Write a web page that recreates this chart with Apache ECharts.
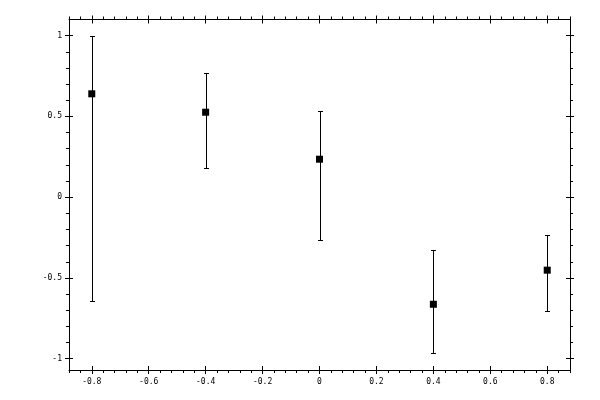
<!DOCTYPE html>
<html>
<head>
<meta charset="utf-8">
<script src="https://cdn.jsdelivr.net/npm/echarts@6/dist/echarts.min.js"></script>
<style>
html,body{margin:0;padding:0;background:#fff;}
#chart{width:600px;height:400px;}
</style>
</head>
<body>
<div id="chart"></div>
<script>
// ---- data ----
const xValues = [-0.8, -0.4, 0, 0.4, 0.8];
const yValues = [0.64, 0.526, 0.235, -0.663, -0.452];
const yLower  = [-0.645, 0.181, -0.266, -0.964, -0.706];
const yUpper  = [1.0, 0.768, 0.532, -0.328, -0.235];

const xTickLabels = [-0.8, -0.6, -0.4, -0.2, 0, 0.2, 0.4, 0.6, 0.8];
const yTickLabels = [-1, -0.5, 0, 0.5, 1];

const xRange = [-0.88, 0.88];
const yRange = [-1.07, 1.1];

// minor tick positions (every 0.04 on x, every 0.1 on y)
const xMinorTicks = [];
for (let k = -22; k <= 22; k++) xMinorTicks.push(Math.round(k * 4) / 100);
const yMinorTicks = [];
for (let k = -10; k <= 10; k++) yMinorTicks.push(Math.round(k * 10) / 100);

const font = {fontFamily: 'DejaVu Sans Mono', fontSize: 8, color: '#000'};
const lineStyle = {color: '#000', width: 1};

function makeAxes(position, range, majors, minors, withLabels, labelMargin) {
  const base = {
    type: 'value', min: range[0], max: range[1], position: position,
    splitLine: {show: false}, axisLabel: {show: false},
    axisLine: {show: false, onZero: false}, axisTick: {show: false}
  };
  return [
    Object.assign({}, base, {
      axisLine: {show: true, onZero: false, lineStyle: lineStyle},
      axisTick: {show: true, inside: false, length: 4, customValues: majors, lineStyle: lineStyle},
      axisLabel: withLabels ? Object.assign({show: true, margin: labelMargin, customValues: majors}, font) : {show: false}
    }),
    Object.assign({}, base, {
      axisTick: {show: true, inside: true, length: 4, customValues: majors, lineStyle: lineStyle}
    }),
    Object.assign({}, base, {
      axisTick: {show: true, inside: false, length: 3, customValues: minors, lineStyle: lineStyle}
    })
  ];
}

const xAxes = makeAxes('bottom', xRange, xTickLabels, xMinorTicks, true, 8)
  .concat(makeAxes('top', xRange, xTickLabels, xMinorTicks, false, 8));
const yAxes = makeAxes('left', yRange, yTickLabels, yMinorTicks, true, 7)
  .concat(makeAxes('right', yRange, yTickLabels, yMinorTicks, false, 7));

const pointData = xValues.map((x, i) => [x, yValues[i]]);
const errData = xValues.map((x, i) => [x, yLower[i], yUpper[i]]);

const chart = echarts.init(document.getElementById('chart'), null, {renderer: 'canvas'});
chart.setOption({
  animation: false,
  backgroundColor: '#fff',
  grid: {left: 69, right: 30, top: 19.5, bottom: 30, containLabel: false},
  xAxis: xAxes,
  yAxis: yAxes,
  series: [
    {
      type: 'custom',
      xAxisIndex: 0, yAxisIndex: 0,
      data: errData,
      encode: {x: 0, y: [1, 2]},
      renderItem: function (params, api) {
        const x = api.value(0);
        const lo = api.coord([x, api.value(1)]);
        const hi = api.coord([x, api.value(2)]);
        const px = Math.round(lo[0]) + 0.5;
        const ly = Math.round(lo[1]) + 0.5;
        const hy = Math.round(hi[1]) + 0.5;
        const cap = 2.5;
        const st = {stroke: '#000', lineWidth: 1};
        return {
          type: 'group',
          children: [
            {type: 'line', shape: {x1: px, y1: ly, x2: px, y2: hy}, style: st},
            {type: 'line', shape: {x1: px - cap, y1: ly, x2: px + cap, y2: ly}, style: st},
            {type: 'line', shape: {x1: px - cap, y1: hy, x2: px + cap, y2: hy}, style: st}
          ]
        };
      }
    },
    {
      type: 'scatter',
      xAxisIndex: 0, yAxisIndex: 0,
      data: pointData,
      symbol: 'rect',
      symbolSize: 7,
      itemStyle: {color: '#000', opacity: 1},
      z: 5
    }
  ]
});
</script>
</body>
</html>
